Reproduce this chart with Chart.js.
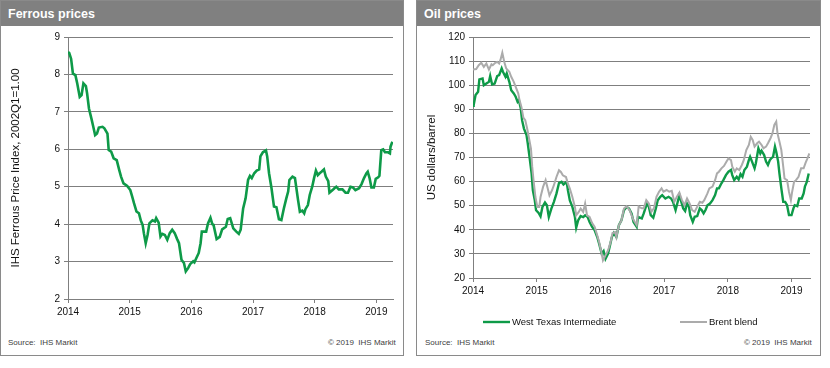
<!DOCTYPE html>
<html>
<head>
<meta charset="utf-8">
<script src="https://cdn.jsdelivr.net/npm/chart.js@4.4.1/dist/chart.umd.min.js"></script>
<style>
  html, body { margin:0; padding:0; background:#fff; width:830px; height:368px; overflow:hidden; font-family:"Liberation Sans", Arial, sans-serif; }
  .panel { position:absolute; top:0; height:356px; box-sizing:border-box; border:1px solid #8a8a8a; background:#fff; }
  .bar { position:absolute; left:0; top:0; right:0; height:25px; background:#808080; color:#fff; font-weight:bold; font-size:12.5px; line-height:26px; padding-left:7px; }
  .src { position:absolute; top:338px; font-size:8px; color:#404040; white-space:pre; }
  canvas { position:absolute; }
</style>
</head>
<body>
<div class="panel" style="left:0; width:404px;">
  <div class="bar">Ferrous prices</div>
</div>
<div class="panel" style="left:416px; width:405px;">
  <div class="bar">Oil prices</div>
</div>
<div class="src" style="left:8px;">Source:  IHS Markit</div>
<div class="src" style="left:328px;">© 2019  IHS Markit</div>
<div class="src" style="left:425px;">Source:  IHS Markit</div>
<div class="src" style="left:744px;">© 2019  IHS Markit</div>
<canvas id="ferrous" width="403" height="305" style="left:0; top:25px;"></canvas>
<canvas id="oil" width="404" height="305" style="left:416px; top:25px;"></canvas>
<script>
// ---------- data ----------
const yearTicks = [2014, 2015, 2016, 2017, 2018, 2019];

const ferrousYears = [2014.00,2014.02,2014.05,2014.08,2014.12,2014.15,2014.19,2014.22,2014.25,2014.29,2014.31,2014.34,2014.38,2014.41,2014.44,2014.47,2014.50,2014.56,2014.59,2014.64,2014.66,2014.70,2014.74,2014.79,2014.83,2014.86,2014.90,2014.96,2015.01,2015.04,2015.07,2015.11,2015.15,2015.18,2015.21,2015.23,2015.26,2015.29,2015.32,2015.37,2015.41,2015.43,2015.47,2015.50,2015.53,2015.57,2015.61,2015.65,2015.69,2015.73,2015.77,2015.80,2015.82,2015.84,2015.88,2015.91,2015.95,2015.98,2016.03,2016.05,2016.08,2016.12,2016.15,2016.17,2016.24,2016.27,2016.31,2016.34,2016.36,2016.41,2016.46,2016.50,2016.56,2016.59,2016.63,2016.68,2016.73,2016.77,2016.80,2016.84,2016.88,2016.92,2016.95,2016.98,2017.02,2017.06,2017.10,2017.12,2017.16,2017.21,2017.23,2017.26,2017.30,2017.34,2017.38,2017.42,2017.46,2017.50,2017.54,2017.57,2017.59,2017.64,2017.68,2017.70,2017.73,2017.76,2017.80,2017.83,2017.85,2017.89,2017.92,2017.96,2017.99,2018.02,2018.05,2018.08,2018.11,2018.15,2018.18,2018.22,2018.24,2018.29,2018.32,2018.35,2018.39,2018.45,2018.50,2018.54,2018.58,2018.62,2018.66,2018.72,2018.76,2018.80,2018.84,2018.86,2018.89,2018.92,2018.96,2018.99,2019.03,2019.05,2019.08,2019.11,2019.14,2019.19,2019.22,2019.23,2019.26];
const ferrousIndex = [8.60,8.57,8.42,8.02,7.98,7.76,7.40,7.45,7.76,7.69,7.49,7.09,6.82,6.60,6.38,6.42,6.58,6.60,6.56,6.42,5.98,5.94,5.76,5.71,5.45,5.27,5.09,5.02,4.91,4.74,4.56,4.34,4.29,4.10,3.98,3.76,3.49,3.71,4.02,4.10,4.07,4.16,4.04,3.67,3.74,3.71,3.58,3.76,3.85,3.76,3.60,3.49,3.27,3.05,2.96,2.74,2.83,2.93,3.01,2.98,3.09,3.23,3.49,3.80,3.80,4.02,4.17,4.00,3.98,3.60,3.66,3.86,3.93,4.14,4.16,3.89,3.80,3.74,3.85,4.42,4.69,5.18,5.29,5.23,5.36,5.43,5.46,5.81,5.92,5.97,5.81,5.36,4.96,4.47,4.45,4.13,4.11,4.42,4.69,4.87,5.18,5.27,5.23,5.00,4.65,4.33,4.36,4.29,4.40,4.51,4.78,5.00,5.23,5.43,5.31,5.36,5.40,5.46,5.27,5.15,4.84,4.91,4.96,5.00,4.93,4.93,4.84,4.84,5.00,4.98,4.91,4.96,5.07,5.23,5.36,5.40,5.23,4.98,4.98,5.21,5.25,5.29,5.98,6.00,5.92,5.92,5.89,6.07,6.20];

const wtiYears = [2014.00,2014.01,2014.04,2014.08,2014.10,2014.15,2014.17,2014.21,2014.25,2014.27,2014.30,2014.34,2014.38,2014.41,2014.45,2014.47,2014.51,2014.53,2014.57,2014.60,2014.64,2014.67,2014.70,2014.72,2014.75,2014.77,2014.80,2014.84,2014.86,2014.89,2014.92,2014.94,2014.97,2014.99,2015.03,2015.06,2015.09,2015.13,2015.16,2015.19,2015.23,2015.27,2015.31,2015.35,2015.39,2015.42,2015.47,2015.49,2015.52,2015.56,2015.60,2015.62,2015.65,2015.69,2015.73,2015.76,2015.80,2015.83,2015.87,2015.91,2015.95,2015.98,2016.02,2016.05,2016.08,2016.12,2016.15,2016.18,2016.21,2016.25,2016.29,2016.33,2016.37,2016.41,2016.45,2016.49,2016.52,2016.57,2016.59,2016.65,2016.68,2016.73,2016.76,2016.79,2016.83,2016.87,2016.90,2016.94,2016.97,2017.02,2017.07,2017.11,2017.14,2017.18,2017.21,2017.24,2017.27,2017.30,2017.33,2017.36,2017.39,2017.41,2017.45,2017.48,2017.52,2017.56,2017.59,2017.62,2017.65,2017.68,2017.72,2017.76,2017.80,2017.83,2017.86,2017.90,2017.93,2017.97,2018.01,2018.05,2018.07,2018.10,2018.14,2018.17,2018.20,2018.23,2018.26,2018.30,2018.33,2018.35,2018.38,2018.42,2018.44,2018.48,2018.51,2018.53,2018.57,2018.60,2018.63,2018.66,2018.68,2018.71,2018.74,2018.76,2018.79,2018.81,2018.84,2018.87,2018.90,2018.93,2018.96,2019.00,2019.03,2019.05,2019.09,2019.12,2019.16,2019.19,2019.21,2019.24,2019.27];
const wtiPrices = [91.5,91.7,95.9,97.3,102.4,102.8,100.0,100.7,101.4,103.8,100.3,100.7,103.8,104.2,107.0,105.6,103.5,104.9,101.4,97.9,96.6,95.2,93.1,93.8,90.3,85.5,82.0,79.3,75.8,69.6,63.3,56.4,52.2,48.1,47.0,45.6,49.5,51.3,50.2,45.3,48.8,51.6,55.0,59.4,59.9,58.8,59.9,56.4,52.2,49.5,45.3,40.9,43.9,45.7,45.3,46.0,45.3,43.2,41.2,39.8,37.0,34.2,30.1,31.2,28.0,30.1,33.5,37.0,38.7,37.0,41.9,43.9,48.1,49.5,48.8,46.7,43.2,41.2,45.4,44.7,46.8,50.9,49.6,46.1,45.0,48.9,52.3,53.7,54.4,53.0,53.7,53.0,51.6,48.2,51.2,54.4,51.6,48.9,47.8,50.9,49.6,46.1,43.3,45.4,45.7,48.9,48.2,46.8,48.2,50.2,50.9,52.3,54.4,57.2,57.2,59.3,60.6,62.7,64.1,64.8,62.7,60.6,62.0,60.9,63.1,62.0,64.8,66.2,68.9,70.3,68.3,65.5,67.6,73.8,71.7,72.8,71.0,68.3,66.9,68.9,69.6,70.3,74.5,72.4,68.3,63.4,57.2,51.6,51.6,50.2,46.1,46.1,48.9,50.2,49.8,53.0,53.0,55.1,57.9,59.9,63.4];

const brentYears = [2014.00,2014.05,2014.09,2014.13,2014.17,2014.21,2014.25,2014.29,2014.31,2014.35,2014.38,2014.41,2014.43,2014.46,2014.49,2014.52,2014.57,2014.60,2014.64,2014.67,2014.71,2014.73,2014.76,2014.79,2014.82,2014.85,2014.88,2014.91,2014.93,2014.95,2014.98,2015.01,2015.04,2015.06,2015.10,2015.14,2015.18,2015.20,2015.24,2015.27,2015.31,2015.35,2015.38,2015.41,2015.46,2015.48,2015.52,2015.56,2015.60,2015.62,2015.66,2015.69,2015.73,2015.76,2015.79,2015.83,2015.87,2015.91,2015.95,2015.98,2016.02,2016.04,2016.08,2016.12,2016.16,2016.19,2016.23,2016.25,2016.29,2016.33,2016.37,2016.41,2016.46,2016.51,2016.57,2016.60,2016.65,2016.68,2016.72,2016.76,2016.80,2016.84,2016.88,2016.92,2016.96,2016.99,2017.04,2017.08,2017.12,2017.16,2017.20,2017.24,2017.28,2017.32,2017.36,2017.40,2017.44,2017.48,2017.52,2017.56,2017.60,2017.63,2017.68,2017.71,2017.76,2017.80,2017.83,2017.86,2017.90,2017.94,2017.98,2018.01,2018.05,2018.07,2018.11,2018.14,2018.18,2018.22,2018.25,2018.29,2018.33,2018.36,2018.39,2018.42,2018.46,2018.49,2018.53,2018.56,2018.60,2018.63,2018.67,2018.70,2018.73,2018.76,2018.78,2018.81,2018.84,2018.87,2018.89,2018.93,2018.96,2018.99,2019.01,2019.04,2019.07,2019.11,2019.15,2019.19,2019.22,2019.25,2019.28];
const brentPrices = [106.5,106.7,108.3,109.3,107.6,109.0,106.5,108.7,108.3,109.3,109.7,109.0,110.4,113.5,109.7,107.0,105.6,103.5,101.4,99.3,96.6,93.8,91.0,86.6,85.5,82.0,77.9,73.7,66.1,60.6,53.6,49.5,49.5,53.6,57.8,60.6,56.4,54.3,56.4,58.5,61.9,64.7,64.0,62.6,61.9,59.9,57.1,53.6,49.5,46.0,47.4,48.8,47.4,50.9,46.0,45.3,42.8,41.2,37.7,34.9,30.1,27.3,29.4,31.5,34.9,38.7,39.1,37.0,41.9,43.9,48.8,49.8,48.1,44.6,41.9,49.6,48.9,48.9,52.3,50.9,47.5,48.9,53.7,55.8,57.2,55.8,56.5,55.8,56.2,51.6,53.7,55.4,52.3,50.2,53.0,50.9,48.2,47.5,49.6,51.6,51.2,52.3,55.1,57.2,57.9,60.6,63.4,64.1,65.5,66.5,68.3,69.6,68.9,66.2,64.1,65.5,64.8,66.9,68.9,73.1,75.2,78.6,77.3,74.5,75.9,76.6,75.2,73.8,74.5,75.9,78.0,80.0,83.5,84.9,80.0,76.6,73.1,66.2,61.3,60.6,55.8,52.3,55.8,59.9,60.6,62.0,65.5,65.5,67.8,69.6,71.7];

// ---------- helpers ----------
const GREEN = '#0e9a48';
const GREY = '#ababab';
const GRID = '#7f7f7f';
const FONT = 'Liberation Sans';
const pts = (xs, ys) => xs.map((x, i) => ({ x: x, y: ys[i] }));

function xScale(max, pad) {
  return {
    type: 'linear', min: 2014, max: max,
    afterBuildTicks: s => { s.ticks = yearTicks.map(v => ({ value: v })); },
    grid: { drawOnChartArea: false, drawTicks: true, tickLength: 4, color: GRID },
    border: { color: GRID, width: 1 },
    ticks: { font: { family: FONT, size: 10 }, color: '#111', padding: pad, maxRotation: 0, autoSkip: false, callback: v => String(v) }
  };
}
function yScale(min, max, step, title, width) {
  return {
    min: min, max: max,
    ticks: { stepSize: step, padding: 4, font: { family: FONT, size: 10 }, color: '#111' },
    grid: { color: GRID, lineWidth: 1, tickLength: 4 },
    border: { color: GRID, width: 1 },
    title: { display: true, text: title, font: { family: FONT, size: 11.5 }, color: '#111', padding: { top: 9, bottom: 0 } },
    afterFit: s => { s.width = width; }
  };
}

// ---------- ferrous chart ----------
const fx = xScale(2019.27, 3);
fx.afterFit = s => { s.height = 31; };
new Chart(document.getElementById('ferrous'), {
  type: 'line',
  data: { datasets: [{ label: 'Ferrous price index', data: pts(ferrousYears, ferrousIndex), borderColor: GREEN, borderWidth: 2.6, pointRadius: 0, tension: 0, fill: false }] },
  options: {
    responsive: false, animation: false, devicePixelRatio: 1,
    layout: { padding: { top: 12, right: 10, left: 0, bottom: 0 } },
    plugins: { legend: { display: false }, tooltip: { enabled: false } },
    scales: { x: fx, y: yScale(2, 9, 1, 'IHS Ferrous Price Index, 2002Q1=1.00', 68) }
  }
});

// ---------- oil chart ----------
const oilLegend = {
  id: 'oilLegend',
  afterDraw(chart, args, opts) {
    const ctx = chart.ctx;
    ctx.save();
    ctx.font = opts.fontSize + 'px "' + FONT + '"';
    ctx.textBaseline = 'middle';
    ctx.fillStyle = '#111';
    opts.items.forEach(it => {
      const ds = chart.data.datasets[it.dataset];
      ctx.strokeStyle = ds.borderColor;
      ctx.lineWidth = ds.borderWidth;
      ctx.beginPath();
      ctx.moveTo(it.x, opts.y);
      ctx.lineTo(it.x + opts.lineLen, opts.y);
      ctx.stroke();
      ctx.fillText(ds.label, it.x + opts.lineLen + 2, opts.y);
    });
    ctx.restore();
  }
};
const ox = xScale(2019.29, 3);
ox.afterFit = s => { s.height = 52; };
new Chart(document.getElementById('oil'), {
  type: 'line',
  data: { datasets: [
    { label: 'West Texas Intermediate', data: pts(wtiYears, wtiPrices), borderColor: GREEN, borderWidth: 2.4, pointRadius: 0, tension: 0, fill: false, order: 2 },
    { label: 'Brent blend', data: pts(brentYears, brentPrices), borderColor: GREY, borderWidth: 2, pointRadius: 0, tension: 0, fill: false, order: 1 }
  ] },
  options: {
    responsive: false, animation: false, devicePixelRatio: 1,
    layout: { padding: { top: 12, right: 10, left: 0, bottom: 0 } },
    plugins: {
      legend: { display: false }, tooltip: { enabled: false },
      oilLegend: { y: 297, lineLen: 27, fontSize: 9.5, items: [{ dataset: 0, x: 67 }, { dataset: 1, x: 264 }] }
    },
    scales: { x: ox, y: yScale(20, 120, 10, 'US dollars/barrel', 57) }
  },
  plugins: [oilLegend]
});
</script>
</body>
</html>
